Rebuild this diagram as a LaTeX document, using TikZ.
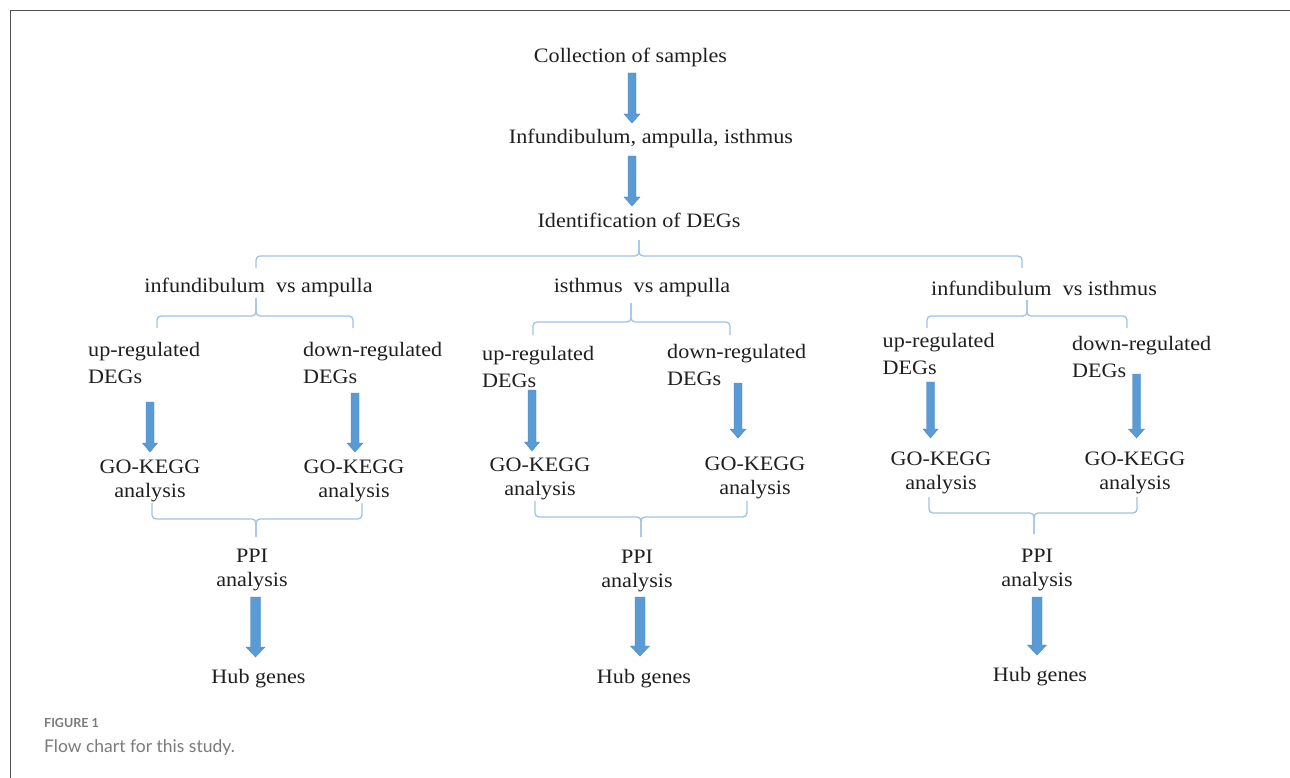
\documentclass[tikz,border=0pt]{standalone}
\usepackage{fontspec}
\setmainfont{Liberation Serif}[FakeStretch=1.08]
\newfontfamily\capfont{Lato}
\usetikzlibrary{calc}
\definecolor{ablue}{HTML}{5B9BD5}
\definecolor{aedge}{HTML}{4A86C0}
\definecolor{bblue}{HTML}{9DC3E6}
\definecolor{capgray}{HTML}{7A7A7A}
\definecolor{framegray}{HTML}{505050}
\tikzset{
  lbl/.style={font=\fontsize{20.5}{24}\selectfont, inner sep=0pt, text=black!88, anchor=base},
  lblc/.style={lbl, align=center},
  lbll/.style={lbl, align=left, anchor=base west},
  brc/.style={draw=bblue, line width=1.3pt, rounded corners=4pt},
  blk/.style={fill=ablue, draw=aedge, line width=0.4pt},
  framestyle/.style={draw=framegray, line width=1.4pt},
}
\newcommand\blkarrow[5]{%
  \filldraw[blk] let \p1=(#1), \p2=(#2) in
    (\x1-#3,\y1) -- (\x1+#3,\y1) -- (\x1+#3,\y2+#5) -- (\x1+#4,\y2+#5)
    -- (\x2,\y2) -- (\x1-#4,\y2+#5) -- (\x1-#3,\y2+#5) -- cycle;}
\begin{document}
\begin{tikzpicture}[x=1pt,y=-1pt]
\useasboundingbox (0,0) rectangle (1290,778);
% frame
\draw[framestyle] (10.5,778) -- (10.5,10.5) -- (1290,10.5);

% top chain
\node[lbl] (collect) at (630.5,63) {Collection of samples};
\node[lbl] (parts) at (651,144) {Infundibulum, ampulla, isthmus};
\node[lbl] (ident) at (639,228) {Identification of DEGs};
\coordinate (a1s) at (632,73);  \coordinate (a1e) at (632,123);
\coordinate (a2s) at (632,156); \coordinate (a2e) at (632,206);
\blkarrow{a1s}{a1e}{4pt}{8pt}{9pt}
\blkarrow{a2s}{a2e}{4pt}{8pt}{9pt}

% top brace
\draw[brc] (256,268) -- (256,256) -- (639,256) -- (639,240);
\draw[brc] (639,240) -- (639,256) -- (1022,256) -- (1022,268);

% comparisons
\node[lbl] (cmpA) at (258.5,292) {infundibulum\ \ vs ampulla};
\node[lbl] (cmpB) at (642,292) {isthmus\ \ vs ampulla};
\node[lbl] (cmpC) at (1044,295) {infundibulum\ \ vs isthmus};

% braces under comparisons
\draw[brc] (157,328) -- (157,316) -- (256,316) -- (256,298);
\draw[brc] (256,298) -- (256,316) -- (353,316) -- (353,328);
\draw[brc] (533,335) -- (533,322) -- (631,322) -- (631,303);
\draw[brc] (631,303) -- (631,322) -- (730,322) -- (730,335);
\draw[brc] (927,328) -- (927,316) -- (1027,316) -- (1027,300);
\draw[brc] (1027,300) -- (1027,316) -- (1127,316) -- (1127,328);

% left column
\node[lbll] (upA) at (88,383) {up-regulated\\[3pt]DEGs};
\node[lbll] (dnA) at (303,383) {down-regulated\\[3pt]DEGs};
\node[lblc] (goA1) at (150,497) {GO-KEGG\\analysis};
\node[lblc] (goA2) at (354,497) {GO-KEGG\\analysis};
\node[lblc] (ppiA) at (252,586) {PPI\\analysis};
\node[lbl] (hubA) at (258.5,683) {Hub genes};
\coordinate (a3s) at (150,402); \coordinate (a3e) at (150,452);
\coordinate (a4s) at (355,393); \coordinate (a4e) at (355,452);
\coordinate (a5s) at (255.5,597); \coordinate (a5e) at (255.5,657);
\blkarrow{a3s}{a3e}{4pt}{7.5pt}{9pt}
\blkarrow{a4s}{a4e}{4pt}{8pt}{9pt}
\blkarrow{a5s}{a5e}{5pt}{9.5pt}{10pt}
\draw[brc] (152,503) -- (152,519) -- (256,519) -- (256,537);
\draw[brc] (256,537) -- (256,519) -- (362,519) -- (362,503);

% middle column
\node[lbll] (upB) at (482,387) {up-regulated\\[3pt]DEGs};
\node[lbll] (dnB) at (667,385) {down-regulated\\[3pt]DEGs};
\node[lblc] (goB1) at (540,495) {GO-KEGG\\analysis};
\node[lblc] (goB2) at (755,494) {GO-KEGG\\analysis};
\node[lblc] (ppiB) at (637,587) {PPI\\analysis};
\node[lbl] (hubB) at (644,683) {Hub genes};
\coordinate (b3s) at (532,390); \coordinate (b3e) at (532,451);
\coordinate (b4s) at (738,383); \coordinate (b4e) at (738,438);
\coordinate (b5s) at (640,597); \coordinate (b5e) at (640,656);
\blkarrow{b3s}{b3e}{4pt}{7.5pt}{9pt}
\blkarrow{b4s}{b4e}{4pt}{8pt}{9pt}
\blkarrow{b5s}{b5e}{5pt}{9.5pt}{10pt}
\draw[brc] (535,501) -- (535,517) -- (641,517) -- (641,537);
\draw[brc] (641,537) -- (641,517) -- (747,517) -- (747,501);

% right column
\node[lbll] (upC) at (882.5,374) {up-regulated\\[3pt]DEGs};
\node[lbll] (dnC) at (1072,377) {down-regulated\\[3pt]DEGs};
\node[lblc] (goC1) at (941,489) {GO-KEGG\\analysis};
\node[lblc] (goC2) at (1135,489) {GO-KEGG\\analysis};
\node[lblc] (ppiC) at (1037,586) {PPI\\analysis};
\node[lbl] (hubC) at (1040,681) {Hub genes};
\coordinate (c3s) at (930.5,382); \coordinate (c3e) at (930.5,438);
\coordinate (c4s) at (1136.5,374); \coordinate (c4e) at (1136.5,438);
\coordinate (c5s) at (1037,597); \coordinate (c5e) at (1037,655);
\blkarrow{c3s}{c3e}{4pt}{7.5pt}{9pt}
\blkarrow{c4s}{c4e}{4pt}{8pt}{9pt}
\blkarrow{c5s}{c5e}{5pt}{9.5pt}{10pt}
\draw[brc] (929,497) -- (929,513) -- (1034,513) -- (1034,534);
\draw[brc] (1034,534) -- (1034,513) -- (1137,513) -- (1137,497);

% caption
\node[anchor=base west, inner sep=0pt, text=capgray, font=\capfont\bfseries\fontsize{12.5}{14}\selectfont] (figlbl) at (44,727) {FIGURE 1};
\node[anchor=base west, inner sep=0pt, text=capgray, font=\capfont\fontsize{17.5}{20}\selectfont] (figcap) at (44,752.5) {Flow chart for this study.};
\end{tikzpicture}
\end{document}
